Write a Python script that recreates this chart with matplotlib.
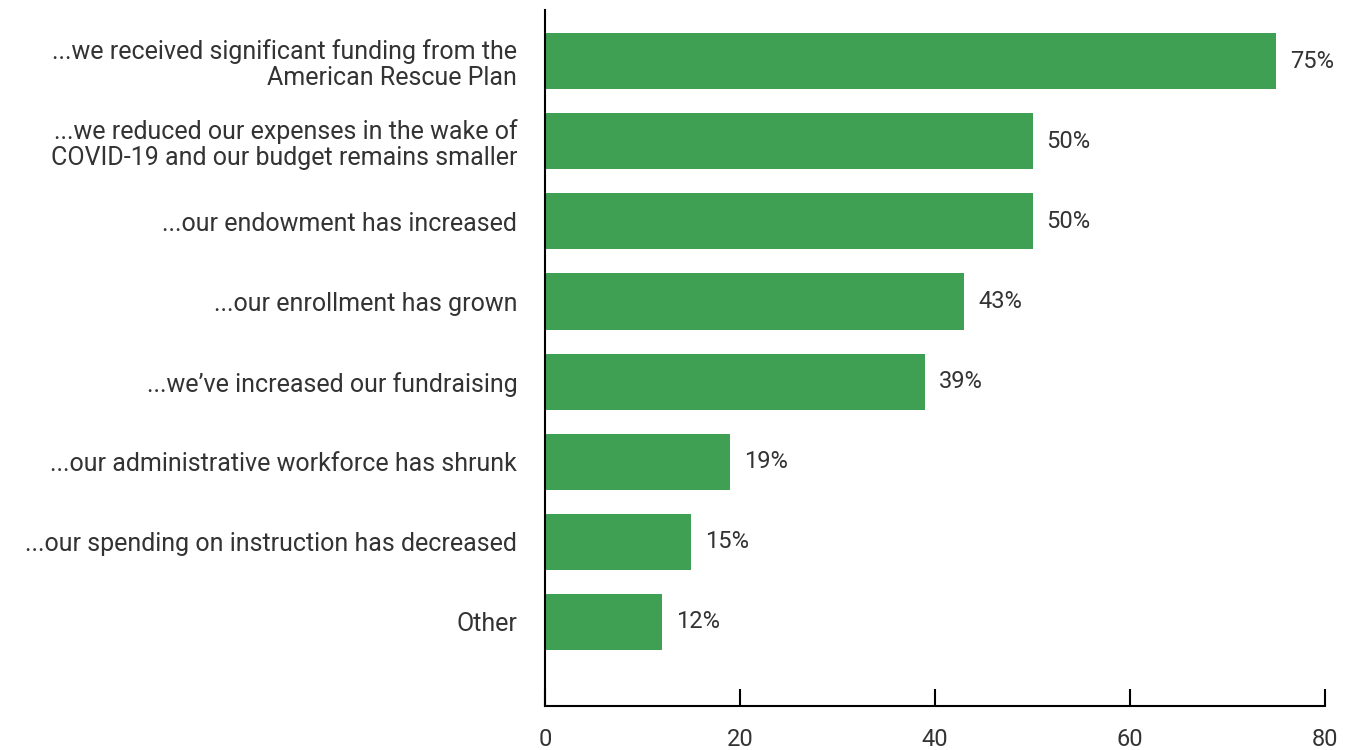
import matplotlib.pyplot as plt

categories = [
    "...we received significant funding from the\nAmerican Rescue Plan",
    "...we reduced our expenses in the wake of\nCOVID-19 and our budget remains smaller",
    "...our endowment has increased",
    "...our enrollment has grown",
    "...we\u2019ve increased our fundraising",
    "...our administrative workforce has shrunk",
    "...our spending on instruction has decreased",
    "Other",
]
values = [75, 50, 50, 43, 39, 19, 15, 12]
xticks = [0, 20, 40, 60, 80]

plt.rcParams['font.family'] = ['Roboto', 'DejaVu Sans']
text_color = "#333333"
bar_color = "#3f9f52"

fig = plt.figure(figsize=(13.46, 7.5), dpi=100)
ax = fig.add_axes([0.405, 0.0587, 0.5794, 0.928])

pos = list(range(len(categories)))
ax.barh(pos, values, height=0.7, color=bar_color)

for p, v in zip(pos, values):
    ax.annotate(f"{v}%", (v, p), xytext=(10, 0), textcoords="offset points",
                ha="left", va="center", fontsize=17, color=text_color)

ax.set_yticks(pos)
ax.set_yticklabels(categories, fontsize=18, color=text_color, linespacing=1.1)
ax.tick_params(axis="y", length=0, pad=20)

ax.set_xticks(xticks)
ax.set_xticklabels([str(t) for t in xticks], fontsize=17, color=text_color)
ax.tick_params(axis="x", direction="in", length=12, width=1.5, pad=16, color="black")

ax.set_xlim(0, 80)
ax.set_ylim(8.05, -0.64)

for s in ["top", "right"]:
    ax.spines[s].set_visible(False)
for s in ["left", "bottom"]:
    ax.spines[s].set_linewidth(1.5)
    ax.spines[s].set_color("black")

fig.savefig("out.png", dpi=100, facecolor="white")
